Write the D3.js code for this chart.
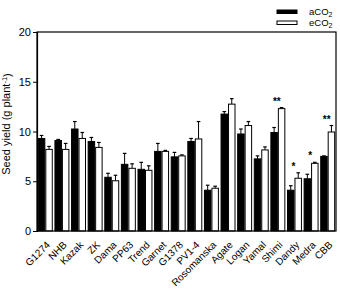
<!DOCTYPE html>
<html>
<head>
<meta charset="utf-8">
<script src="https://cdn.jsdelivr.net/npm/d3@7"></script>
<style>
  body { margin: 0; background: #fff; }
  text { font-family: "Liberation Sans", Arial, Helvetica, sans-serif; fill: #000; }
</style>
</head>
<body>
<svg id="chart" width="340" height="293"></svg>
<script>
// data
const cultivars = ["G1274", "NHB", "Kazak", "ZK", "Dama", "PP63", "Trend", "Garnet", "G1378",
  "PV1-4", "Rosomanska", "Agate", "Logan", "Yamal", "Shimi", "Dandy", "Medra", "CBB"];
const aCO2 = [9.3, 9.1, 10.25, 9.0, 5.4, 6.7, 6.2, 8.0, 7.45, 9.0, 4.1, 11.75, 9.75, 7.25, 9.9, 4.1, 5.25, 7.5];
const aErr = [0.3, 0.1, 0.75, 0.4, 0.4, 1.1, 0.7, 0.8, 0.45, 0.3, 0.5, 0.25, 0.5, 0.3, 0.5, 0.45, 0.45, 0.05];
const eCO2 = [8.2, 8.2, 9.3, 8.4, 5.05, 6.3, 6.1, 8.0, 7.55, 9.25, 4.3, 12.75, 10.6, 8.15, 12.3, 5.3, 6.8, 9.95];
const eErr = [0.3, 0.6, 0.6, 0.5, 0.55, 0.45, 0.45, 0.1, 0.1, 1.75, 0.2, 0.55, 0.4, 0.3, 0.1, 0.55, 0.1, 0.65];
const signif = { "Shimi": "**", "Dandy": "*", "Medra": "*", "CBB": "**" };
const yTicks = [0, 5, 10, 15, 20];

const svg = d3.select("#chart");
const mLeft = 37, mRight = 336, mTop = 32, mBottom = 231;

function make_scales() {
  return {
    x: d3.scaleBand().domain(cultivars).range([mLeft, mRight]).paddingInner(0.1).paddingOuter(0.05),
    y: d3.scaleLinear().domain([0, 20]).range([mBottom, mTop])
  }
}
let scales = make_scales();
const half = scales.x.bandwidth() / 2;

// bars
const series = [
  { vals: aCO2, errs: aErr, fill: "#000", off: 0 },
  { vals: eCO2, errs: eErr, fill: "#fff", off: half }
];

for (const s of series) {
  const g = svg.append("g");
  // error bars (upper only)
  g.selectAll("line.err")
    .data(cultivars).enter()
    .append("line")
    .attr("x1", d => scales.x(d) + s.off + half / 2)
    .attr("x2", d => scales.x(d) + s.off + half / 2)
    .attr("y1", (d, i) => scales.y(s.vals[i]))
    .attr("y2", (d, i) => scales.y(s.vals[i] + s.errs[i]))
    .attr("stroke", "#000").attr("stroke-width", 1);
  g.selectAll("line.cap")
    .data(cultivars).enter()
    .append("line")
    .attr("x1", d => scales.x(d) + s.off + half / 2 - 1.8)
    .attr("x2", d => scales.x(d) + s.off + half / 2 + 1.8)
    .attr("y1", (d, i) => scales.y(s.vals[i] + s.errs[i]))
    .attr("y2", (d, i) => scales.y(s.vals[i] + s.errs[i]))
    .attr("stroke", "#000").attr("stroke-width", 1.2);
  g.selectAll("rect")
    .data(cultivars).enter()
    .append("rect")
    .attr("x", d => scales.x(d) + s.off + 0.5)
    .attr("y", (d, i) => scales.y(s.vals[i]))
    .attr("width", half - 1)
    .attr("height", (d, i) => scales.y(0) - scales.y(s.vals[i]))
    .attr("fill", s.fill)
    .attr("stroke", "#000").attr("stroke-width", 1);
}

// significance marks
svg.append("g").selectAll("text")
  .data(Object.keys(signif)).enter()
  .append("text")
  .attr("x", d => scales.x(d) + half - 1)
  .attr("y", d => {
    const i = cultivars.indexOf(d);
    return scales.y(Math.max(aCO2[i] + aErr[i], eCO2[i] + eErr[i])) - 3;
  })
  .attr("text-anchor", "middle")
  .style("font-size", "10px")
  .style("font-weight", "bold")
  .text(d => signif[d]);

// frame
svg.append("rect")
  .attr("x", mLeft).attr("y", mTop)
  .attr("width", mRight - mLeft).attr("height", mBottom - mTop)
  .attr("fill", "none").attr("stroke", "#000").attr("stroke-width", 1.2);

// y axis
const yAxis = svg.append("g")
  .attr("transform", `translate(${mLeft},0)`)
  .call(d3.axisLeft(scales.y).tickValues(yTicks).tickSize(4).tickPadding(2));
yAxis.select(".domain").attr("stroke-width", 1.2);
yAxis.selectAll("text").style("font-size", "11px").attr("fill", "#000");

// x labels
svg.append("g").selectAll("text")
  .data(cultivars).enter()
  .append("text")
  .attr("transform", d => `translate(${scales.x(d) + half + 3},${mBottom + 12}) rotate(-45)`)
  .attr("text-anchor", "end")
  .attr("dy", "0.35em")
  .style("font-size", "10px")
  .text(d => d);

// y title
const yt = svg.append("text")
  .attr("transform", `translate(10,124) rotate(-90)`)
  .attr("text-anchor", "middle")
  .style("font-size", "11px");
yt.append("tspan").text("Seed yield (g plant");
yt.append("tspan").attr("dy", "-0.4em").style("font-size", "7.5px").text("-1");
yt.append("tspan").attr("dy", "0.4em").text(")");

// legend
const legend = [
  { name: "a", fill: "#000" },
  { name: "e", fill: "#fff" }
];
const lg = svg.append("g").selectAll("g")
  .data(legend).enter()
  .append("g")
  .attr("transform", (d, i) => `translate(277,${10 + i * 11})`);
lg.append("rect")
  .attr("width", 20).attr("height", 3.5)
  .attr("fill", d => d.fill).attr("stroke", "#000").attr("stroke-width", 1);
const lt = lg.append("text")
  .attr("x", 32).attr("y", 5)
  .style("font-size", "9.5px");
lt.append("tspan").text(d => d.name + "CO");
lt.append("tspan").attr("dy", "0.3em").style("font-size", "7px").text("2");
</script>
</body>
</html>
